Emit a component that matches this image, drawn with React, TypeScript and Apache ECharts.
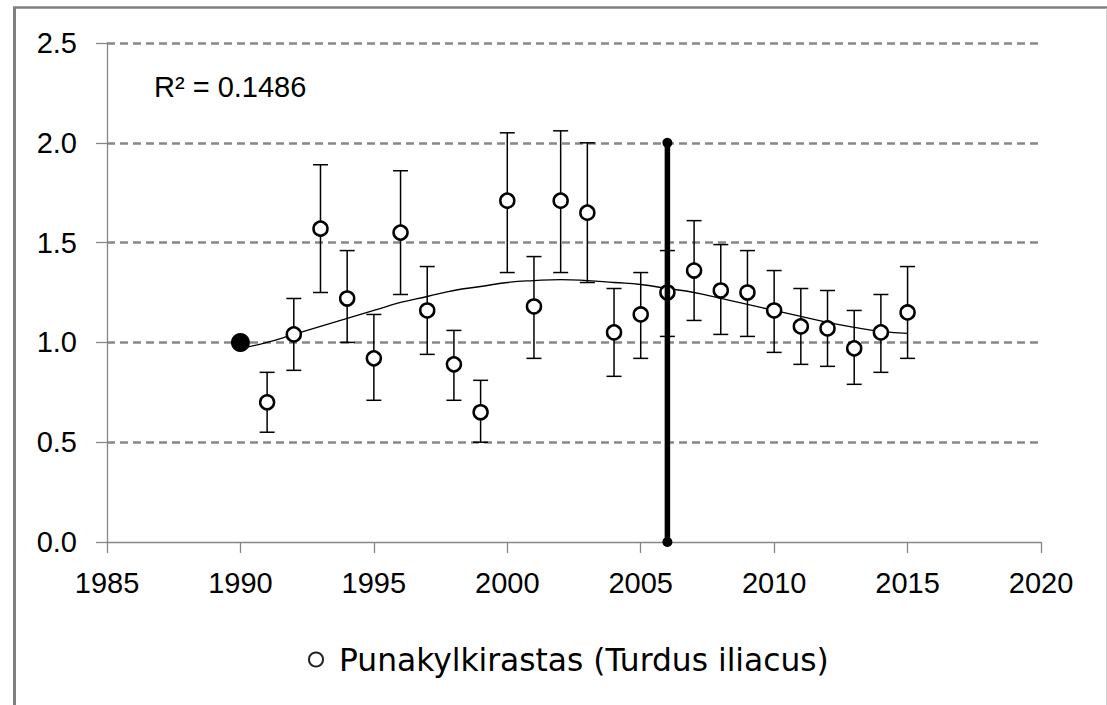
import React, { useEffect, useRef } from "react";
import * as echarts from "echarts";

// ---- Data ----
const seriesName = "Punakylkirastas (Turdus iliacus)";
const years = [1991, 1992, 1993, 1994, 1995, 1996, 1997, 1998, 1999, 2000, 2001, 2002, 2003,
  2004, 2005, 2006, 2007, 2008, 2009, 2010, 2011, 2012, 2013, 2014, 2015];
const indexValues = [0.70, 1.04, 1.57, 1.22, 0.92, 1.55, 1.16, 0.89, 0.65, 1.71, 1.18, 1.71, 1.65,
  1.05, 1.14, 1.25, 1.36, 1.26, 1.25, 1.16, 1.08, 1.07, 0.97, 1.05, 1.15];
const lowerBounds = [0.55, 0.86, 1.25, 1.00, 0.71, 1.24, 0.94, 0.71, 0.50, 1.35, 0.92, 1.35, 1.30,
  0.83, 0.92, 1.03, 1.11, 1.04, 1.03, 0.95, 0.89, 0.88, 0.79, 0.85, 0.92];
const upperBounds = [0.85, 1.22, 1.89, 1.46, 1.14, 1.86, 1.38, 1.06, 0.81, 2.05, 1.43, 2.06, 2.00,
  1.27, 1.35, 1.46, 1.61, 1.49, 1.46, 1.36, 1.27, 1.26, 1.16, 1.24, 1.38];
const baseYear = [1990];
const baseValue = [1.0];
const trendYears = [1990, 1991, 1992, 1993, 1994, 1995, 1996, 1997, 1998, 1999, 2000, 2001, 2002,
  2003, 2004, 2005, 2006, 2007, 2008, 2009, 2010, 2011, 2012, 2013, 2014, 2015];
const trendValues = [0.97, 1.0, 1.04, 1.08, 1.12, 1.16, 1.2, 1.23, 1.26, 1.28, 1.3, 1.31, 1.315,
  1.31, 1.3, 1.29, 1.27, 1.25, 1.22, 1.19, 1.16, 1.13, 1.1, 1.075, 1.055, 1.045];
const markerYear = [2006, 2006];
const markerValues = [0, 2.0];
const rSquaredText = "R² = 0.1486";
const xTicks = { min: 1985, max: 2020, interval: 5 };
const yTicks = { min: 0, max: 2.5, interval: 0.5 };

export default function App() {
  const ref = useRef<HTMLDivElement>(null);

  useEffect(() => {
    if (!ref.current) return;
    const chart = echarts.init(ref.current, undefined, { renderer: "svg" });

    const axisFont = "'Liberation Sans', Arial, sans-serif";
    const errorData = years.map((y, i) => [y, lowerBounds[i], upperBounds[i]]);
    const pointData = years.map((y, i) => [y, indexValues[i]]);
    const trendData = trendYears.map((y, i) => [y, trendValues[i]]);
    const baseData = baseYear.map((y, i) => [y, baseValue[i]]);
    const markerData = markerYear.map((y, i) => [y, markerValues[i]]);

    chart.setOption({
      animation: false,
      backgroundColor: "#ffffff",
      grid: { left: 107, right: 66, top: 43, bottom: 163, containLabel: false },
      xAxis: {
        type: "value",
        min: xTicks.min,
        max: xTicks.max,
        interval: xTicks.interval,
        axisLine: { show: true, lineStyle: { color: "#868686", width: 1.3 } },
        axisTick: { show: true, length: 11, lineStyle: { color: "#868686", width: 1.3 } },
        splitLine: { show: false },
        axisLabel: {
          margin: 26,
          fontSize: 29,
          fontFamily: axisFont,
          color: "#000000",
          formatter: (v: number) => String(v),
        },
      },
      yAxis: {
        type: "value",
        min: yTicks.min,
        max: yTicks.max,
        interval: yTicks.interval,
        axisLine: { show: true, lineStyle: { color: "#868686", width: 1.3 } },
        axisTick: { show: true, length: 11, lineStyle: { color: "#868686", width: 1.3 } },
        splitLine: {
          show: true,
          showMinLine: false,
          lineStyle: { color: "#888888", width: 2.5, type: [8, 5] },
        },
        axisLabel: {
          margin: 30,
          fontSize: 29,
          fontFamily: axisFont,
          color: "#000000",
          formatter: (v: number) => v.toFixed(1),
        },
      },
      legend: {
        show: true,
        data: [seriesName],
        left: 303,
        top: 639,
        icon: "circle",
        itemWidth: 36,
        itemHeight: 14,
        itemStyle: { color: "#ffffff", borderColor: "#222222", borderWidth: 2, opacity: 1 },
        textStyle: {
          fontSize: 31.3,
          fontFamily: "'DejaVu Sans', sans-serif",
          color: "#000000",
        },
      },
      graphic: [
        {
          type: "line",
          shape: { x1: 14.5, y1: 7, x2: 14.5, y2: 705 },
          style: { stroke: "#808080", lineWidth: 3 },
          silent: true,
        },
        {
          type: "line",
          shape: { x1: 13, y1: 7.5, x2: 1107, y2: 7.5 },
          style: { stroke: "#808080", lineWidth: 2.5 },
          silent: true,
        },
        {
          type: "line",
          shape: { x1: 1106.5, y1: 8, x2: 1106.5, y2: 705 },
          style: { stroke: "#d0d0d0", lineWidth: 1 },
          silent: true,
        },
        {
          type: "text",
          left: 154,
          top: 72,
          style: {
            text: rSquaredText,
            fontSize: 29,
            fontFamily: axisFont,
            fill: "#000000",
          },
          silent: true,
        },
      ],
      series: [
        {
          type: "custom",
          name: "errors",
          data: errorData,
          encode: { x: 0, y: [1, 2] },
          z: 2,
          renderItem: (params: any, api: any) => {
            const x = api.value(0);
            const lo = api.coord([x, api.value(1)]);
            const hi = api.coord([x, api.value(2)]);
            const cap = 7.5;
            const style = { stroke: "#000000", lineWidth: 1.5 };
            return {
              type: "group",
              children: [
                { type: "line", shape: { x1: lo[0], y1: lo[1], x2: hi[0], y2: hi[1] }, style },
                { type: "line", shape: { x1: lo[0] - cap, y1: lo[1], x2: lo[0] + cap, y2: lo[1] }, style },
                { type: "line", shape: { x1: hi[0] - cap, y1: hi[1], x2: hi[0] + cap, y2: hi[1] }, style },
              ],
            };
          },
        },
        {
          type: "line",
          name: "trend",
          data: trendData,
          smooth: true,
          showSymbol: false,
          symbol: "none",
          z: 3,
          lineStyle: { color: "#000000", width: 1.3 },
        },
        {
          type: "scatter",
          name: seriesName,
          data: pointData,
          symbol: "circle",
          symbolSize: 14,
          z: 4,
          itemStyle: { color: "#ffffff", borderColor: "#000000", borderWidth: 2.5, opacity: 1 },
        },
        {
          type: "scatter",
          name: "base",
          data: baseData,
          symbol: "circle",
          symbolSize: 19,
          z: 5,
          itemStyle: { color: "#000000", opacity: 1 },
        },
        {
          type: "line",
          name: "marker",
          data: markerData,
          symbol: "circle",
          symbolSize: 10,
          showSymbol: true,
          z: 6,
          lineStyle: { color: "#000000", width: 5.5 },
          itemStyle: { color: "#000000", opacity: 1 },
        },
      ],
    });

    return () => chart.dispose();
  }, []);

  return (
    <div
      ref={ref}
      style={{ position: "absolute", left: 0, top: 0, width: 1107, height: 705 }}
    />
  );
}
